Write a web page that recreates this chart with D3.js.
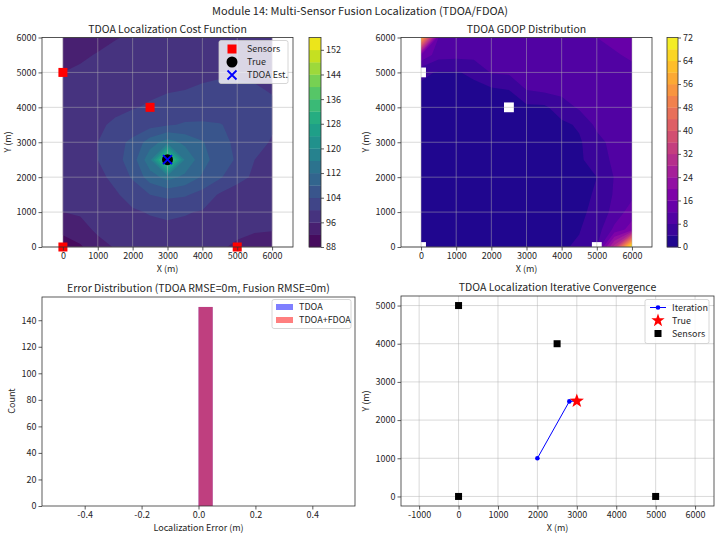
<!DOCTYPE html>
<html>
<head>
<meta charset="utf-8">
<script src="https://cdn.jsdelivr.net/npm/d3@7"></script>
<style>
body { margin: 0; background: #fff; }
text { font-family: "Noto Sans CJK SC", "Noto Sans", sans-serif; fill: #262626; }
</style>
</head>
<body>
<svg id="chart" width="720" height="540"></svg>
<script>
// ---- data ----
var sensorsX = [0, 5000, 0, 2500];
var sensorsY = [0, 0, 5000, 4000];
var truePos = [3000, 2500];
var tdoaEst = [3000, 2500];

// sample grid (m): columns west->east, rows north->south
var gridX = [0, 500, 1000, 1500, 2000, 2500, 3000, 3500, 4000, 4500, 5000, 5500, 6000];
var gridY = [6000, 5500, 5000, 4500, 4000, 3500, 3000, 2500, 2000, 1500, 1000, 500, 0];

var costGrid = [
  [93, 94, 95, 95.8, 96.5, 97, 97.5, 98, 98, 98, 98, 98, 98],
  [94.5, 95.5, 96.2, 97, 97.5, 98, 98.3, 98.6, 98.8, 99, 99, 98.8, 98.5],
  [96, 96.5, 97, 97.5, 98, 98.5, 99, 99.3, 99.5, 99.7, 99.7, 99.5, 99],
  [97, 97.5, 98, 98.5, 99, 99.5, 99.8, 100, 100.3, 100.5, 100.5, 100.3, 99.8],
  [97.5, 98, 98.7, 99.3, 99.8, 100.3, 100.8, 101.5, 102, 102, 101.8, 101.2, 100.5],
  [97.5, 98.2, 99.5, 100.5, 101.5, 102.5, 103.5, 104.5, 104.5, 104.2, 103, 101.5, 100.3],
  [97.5, 98.5, 100, 102.5, 105, 110, 114, 111, 108.3, 105.5, 103, 100.8, 99.8],
  [97, 98.5, 100, 102.5, 106, 115, 142, 115.5, 109.5, 106, 103.5, 100, 99],
  [96.5, 97.5, 99, 101, 104.5, 110, 113.5, 111, 107.5, 104.5, 101, 99.5, 98.5],
  [96.3, 97, 98, 99.5, 101.5, 104, 105, 104.5, 102.5, 99.5, 98.5, 97.5, 97],
  [96, 96.5, 97.5, 98.5, 99.5, 100.3, 100.7, 100.3, 99.7, 98.7, 97.8, 97.2, 97],
  [93.5, 94.5, 96.8, 97.3, 98, 98.8, 99.2, 99, 98.5, 97.8, 97, 96.5, 96.3],
  [89, 91.5, 94.5, 96.3, 96.8, 97.5, 97.8, 97.7, 97.3, 96.5, 95.3, 94, 93]
];

var gdopGrid = [
  [60, 12, 10.5, 10, 9.8, 9.8, 10, 10.5, 11, 11.5, 12, 12.5, 13],
  [16, 9.5, 9.2, 9.3, 9.5, 9.8, 10, 10.3, 10.6, 10.9, 11.3, 11.8, 12.3],
  [4.5, 3.8, 3.8, 4.5, 8.3, 8.6, 8.9, 9.2, 9.6, 10, 10.5, 11, 11.5],
  [3.5, 3.2, 3.2, 3.3, 3.3, 4, 8, 8.8, 9.3, 9.8, 10.2, 10.6, 11],
  [3, 2.8, 2.7, 2.7, 2.8, 3, 3.1, 3.3, 6, 8.6, 9.6, 10, 10.5],
  [2.8, 2.6, 2.5, 2.5, 2.5, 2.6, 2.8, 3, 3.2, 4.5, 9, 9.8, 10.3],
  [2.8, 2.5, 2.4, 2.3, 2.3, 2.4, 2.5, 2.7, 3, 3.5, 6.5, 9.5, 10.5],
  [2.8, 2.5, 2.3, 2.2, 2.2, 2.3, 2.4, 2.6, 2.9, 3.5, 5.5, 9, 10.5],
  [2.9, 2.5, 2.3, 2.2, 2.2, 2.3, 2.4, 2.6, 2.8, 3.2, 4, 8.2, 10],
  [3, 2.6, 2.4, 2.3, 2.3, 2.4, 2.5, 2.7, 2.9, 3.3, 4.3, 8.5, 11],
  [3.2, 2.8, 2.5, 2.4, 2.4, 2.5, 2.6, 2.8, 3, 3.4, 4.8, 9.5, 14],
  [3.5, 3.2, 2.7, 2.5, 2.5, 2.6, 2.7, 2.9, 3.2, 3.8, 6, 13, 18],
  [3.5, 3.5, 3.2, 2.8, 2.7, 2.8, 3, 3.2, 3.6, 4.5, 8, 30, 72]
];

var costLevels = [88, 92, 96, 100, 104, 108, 112, 116, 120, 124, 128, 132, 136, 140, 144, 148, 152, 156];
var gdopLevels = [0, 4, 8, 12, 16, 20, 24, 28, 32, 36, 40, 44, 48, 52, 56, 60, 64, 68, 72];
var holeSize = 280; // NaN cells around each sensor (m)

var histEdges = [-0.5, -0.45, -0.4, -0.35, -0.3, -0.25, -0.2, -0.15, -0.1, -0.05, 0,
                 0.05, 0.1, 0.15, 0.2, 0.25, 0.3, 0.35, 0.4, 0.45, 0.5];
var tdoaCounts   = [0, 0, 0, 0, 0, 0, 0, 0, 0, 0, 150, 0, 0, 0, 0, 0, 0, 0, 0, 0];
var fusionCounts = [0, 0, 0, 0, 0, 0, 0, 0, 0, 0, 150, 0, 0, 0, 0, 0, 0, 0, 0, 0];

var iterX = [2000, 2810, 3000];
var iterY = [1000, 2490, 2500];

// tick values
var mapTicks = [0, 1000, 2000, 3000, 4000, 5000, 6000];
var costTicks = [88, 96, 104, 112, 120, 128, 136, 144, 152];
var gdopTicks = [0, 8, 16, 24, 32, 40, 48, 56, 64, 72];
var histXTicks = [-0.4, -0.2, 0.0, 0.2, 0.4];
var histYTicks = [0, 20, 40, 60, 80, 100, 120, 140];
var convXTicks = [-1000, 0, 1000, 2000, 3000, 4000, 5000, 6000];
var convYTicks = [0, 1000, 2000, 3000, 4000, 5000];

// ---- helpers ----
var svg = d3.select("#chart");
var fmtInt = function(d) { return d3.format("d")(d).replace("\u2212", "-"); };
var fmt1 = function(d) { return d3.format(".1f")(d).replace("\u2212", "-"); };

function styleAxis(sel) {
  sel.attr("font-family", null).attr("font-size", null);
  sel.select(".domain").remove();
  sel.selectAll(".tick line").attr("stroke", "#333").attr("stroke-width", 0.8);
  sel.selectAll(".tick text").attr("fill", "#262626").style("font-size", "9px");
}

function axes(xs, ys, xt, yt, fx, fy) {
  svg.append("g").attr("transform", "translate(0," + ys.range()[0] + ")")
    .call(d3.axisBottom(xs).tickValues(xt).tickFormat(fx).tickSize(3.5).tickPadding(2))
    .call(styleAxis);
  svg.append("g").attr("transform", "translate(" + xs.range()[0] + ",0)")
    .call(d3.axisLeft(ys).tickValues(yt).tickFormat(fy).tickSize(3.5).tickPadding(2))
    .call(styleAxis);
}

function frame(xs, ys) {
  svg.append("rect")
    .attr("x", xs.range()[0]).attr("y", ys.range()[1])
    .attr("width", xs.range()[1] - xs.range()[0])
    .attr("height", ys.range()[0] - ys.range()[1])
    .attr("fill", "none").attr("stroke", "#333").attr("stroke-width", 0.8);
}

function gridLines(xs, ys, xt, yt) {
  var g = svg.append("g").attr("stroke", "#b0b0b0").attr("stroke-opacity", 0.6).attr("stroke-width", 0.8);
  g.selectAll(".gx").data(xt).enter().append("line")
    .attr("x1", function(d) { return xs(d); }).attr("x2", function(d) { return xs(d); })
    .attr("y1", ys.range()[0]).attr("y2", ys.range()[1]);
  g.selectAll(".gy").data(yt).enter().append("line")
    .attr("y1", function(d) { return ys(d); }).attr("y2", function(d) { return ys(d); })
    .attr("x1", xs.range()[0]).attr("x2", xs.range()[1]);
}

function label(txt, x, y, size, rot) {
  var t = svg.append("text").attr("x", x).attr("y", y)
    .attr("text-anchor", "middle").style("font-size", size + "px").text(txt);
  if (rot) t.attr("transform", "rotate(-90," + x + "," + y + ")");
  return t;
}

function contourPanel(xs, ys, values, levels, interp, id) {
  var step = gridX[1] - gridX[0];
  var flat = [];
  values.forEach(function(row) { row.forEach(function(v) { flat.push(v); }); });
  var lo = levels[0], hi = levels[levels.length - 1];
  var bands = d3.contours().size([gridX.length, gridY.length]).thresholds(levels.slice(0, -1))(flat);
  var proj = d3.geoTransform({ point: function(px, py) {
    this.stream.point(xs(gridX[0] + (px - 0.5) * step), ys(gridY[0] - (py - 0.5) * step));
  }});
  svg.append("clipPath").attr("id", id).append("rect")
    .attr("x", xs(d3.min(gridX))).attr("y", ys(d3.max(gridY)))
    .attr("width", xs(d3.max(gridX)) - xs(d3.min(gridX)))
    .attr("height", ys(d3.min(gridY)) - ys(d3.max(gridY)));
  svg.append("g").attr("clip-path", "url(#" + id + ")")
    .selectAll("path").data(bands).enter().append("path")
    .attr("d", d3.geoPath(proj))
    .attr("fill", function(d, i) { return interp(((levels[i] + levels[i + 1]) / 2 - lo) / (hi - lo)); });
}

function colorbar(x0, x1, cs, levels, ticks, interp) {
  var lo = levels[0], hi = levels[levels.length - 1];
  svg.append("g").selectAll("rect").data(levels.slice(0, -1)).enter().append("rect")
    .attr("x", x0).attr("width", x1 - x0)
    .attr("y", function(d, i) { return cs(levels[i + 1]); })
    .attr("height", function(d, i) { return cs(levels[i]) - cs(levels[i + 1]) + 0.3; })
    .attr("fill", function(d, i) { return interp(((levels[i] + levels[i + 1]) / 2 - lo) / (hi - lo)); });
  svg.append("rect").attr("x", x0).attr("y", cs.range()[1]).attr("width", x1 - x0)
    .attr("height", cs.range()[0] - cs.range()[1])
    .attr("fill", "none").attr("stroke", "#333").attr("stroke-width", 0.8);
  svg.append("g").attr("transform", "translate(" + x1 + ",0)")
    .call(d3.axisRight(cs).tickValues(ticks).tickFormat(fmtInt).tickSize(3).tickPadding(2))
    .call(styleAxis);
}

function starPath(r) {
  var pts = [];
  for (var k = 0; k < 10; k++) {
    var a = -Math.PI / 2 + k * Math.PI / 5, rr = k % 2 ? r * 0.4 : r;
    pts.push([rr * Math.cos(a), rr * Math.sin(a)]);
  }
  return "M" + pts.join("L") + "Z";
}

function legendBox(x, y, w, h) {
  svg.append("rect").attr("x", x).attr("y", y).attr("width", w).attr("height", h).attr("rx", 2)
    .attr("fill", "#fff").attr("fill-opacity", 0.8).attr("stroke", "#cccccc").attr("stroke-width", 0.8);
}

function legendText(txt, x, y) {
  svg.append("text").attr("x", x).attr("y", y).attr("dy", "0.35em").style("font-size", "9px").text(txt);
}

// ---- suptitle ----
label("Module 14: Multi-Sensor Fusion Localization (TDOA/FDOA)", 360, 14.5, 11);

// ---- panel 1: cost function ----
var xA = d3.scaleLinear().domain([-600, 6600]).range([42, 293]);
var yA = d3.scaleLinear().domain([0, 6000]).range([247, 37.5]);
contourPanel(xA, yA, costGrid, costLevels, d3.interpolateViridis, "clipA");
gridLines(xA, yA, mapTicks, mapTicks);
svg.append("g").selectAll("rect").data(sensorsX).enter().append("rect")
  .attr("x", function(d) { return xA(d) - 4.5; })
  .attr("y", function(d, i) { return yA(sensorsY[i]) - 4.5; })
  .attr("width", 9).attr("height", 9).attr("fill", "#ff0000");
svg.append("circle").attr("cx", xA(truePos[0])).attr("cy", yA(truePos[1])).attr("r", 5.5).attr("fill", "#000");
svg.append("path")
  .attr("d", "M-4.5,-4.5L4.5,4.5M-4.5,4.5L4.5,-4.5")
  .attr("transform", "translate(" + xA(tdoaEst[0]) + "," + yA(tdoaEst[1]) + ")")
  .attr("stroke", "#0000ff").attr("stroke-width", 1.8);
frame(xA, yA);
axes(xA, yA, mapTicks, mapTicks, fmtInt, fmtInt);
label("TDOA Localization Cost Function", 167.5, 33, 10.5);
label("X (m)", 167.5, 272, 9);
label("Y (m)", 11, 142, 9, true);
var cA = d3.scaleLinear().domain([88, 156]).range([247, 37.5]);
colorbar(309, 321, cA, costLevels, costTicks, d3.interpolateViridis);
legendBox(219, 40.5, 69, 43);
svg.append("rect").attr("x", 227.5).attr("y", 44.5).attr("width", 9).attr("height", 9).attr("fill", "#ff0000");
legendText("Sensors", 247, 49);
svg.append("circle").attr("cx", 232).attr("cy", 62).attr("r", 5.5).attr("fill", "#000");
legendText("True", 247, 62);
svg.append("path").attr("d", "M-4.5,-4.5L4.5,4.5M-4.5,4.5L4.5,-4.5")
  .attr("transform", "translate(232,75)").attr("stroke", "#0000ff").attr("stroke-width", 1.8);
legendText("TDOA Est.", 247, 75);

// ---- panel 2: GDOP ----
var xB = d3.scaleLinear().domain([-570, 6570]).range([401, 652]);
var yB = d3.scaleLinear().domain([0, 6000]).range([247, 37.5]);
contourPanel(xB, yB, gdopGrid, gdopLevels, d3.interpolatePlasma, "clipB");
svg.append("g").attr("clip-path", "url(#clipB)").selectAll("rect").data(sensorsX).enter().append("rect")
  .attr("x", function(d) { return xB(d - holeSize / 2); })
  .attr("y", function(d, i) { return yB(sensorsY[i] + holeSize / 2); })
  .attr("width", xB(holeSize) - xB(0)).attr("height", yB(0) - yB(holeSize))
  .attr("fill", "#fff");
gridLines(xB, yB, mapTicks, mapTicks);
frame(xB, yB);
axes(xB, yB, mapTicks, mapTicks, fmtInt, fmtInt);
label("TDOA GDOP Distribution", 526.5, 33, 10.5);
label("X (m)", 526.5, 272, 9);
label("Y (m)", 369, 142, 9, true);
var cB = d3.scaleLinear().domain([0, 72]).range([247, 37.5]);
colorbar(667, 678, cB, gdopLevels, gdopTicks, d3.interpolatePlasma);

// ---- panel 3: error histogram ----
var xC = d3.scaleLinear().domain([-0.55, 0.55]).range([42, 355]);
var yC = d3.scaleLinear().domain([0, 157.5]).range([506, 297]);
function histBars(counts, color) {
  svg.append("g").selectAll("rect").data(counts).enter().append("rect")
    .attr("x", function(d, i) { return xC(histEdges[i]); })
    .attr("width", function(d, i) { return xC(histEdges[i + 1]) - xC(histEdges[i]); })
    .attr("y", function(d) { return yC(d); })
    .attr("height", function(d) { return yC(0) - yC(d); })
    .attr("fill", color).attr("fill-opacity", 0.5);
}
histBars(tdoaCounts, "#0000ff");
histBars(fusionCounts, "#ff0000");
frame(xC, yC);
axes(xC, yC, histXTicks, histYTicks, fmt1, fmtInt);
label("Error Distribution (TDOA RMSE=0m, Fusion RMSE=0m)", 198.5, 292, 10.5);
label("Localization Error (m)", 198.5, 531, 9);
label("Count", 15, 401, 9, true);
legendBox(272, 299.5, 79, 29);
svg.append("rect").attr("x", 276).attr("y", 304).attr("width", 17).attr("height", 6).attr("fill", "#0000ff").attr("fill-opacity", 0.5);
legendText("TDOA", 299, 307);
svg.append("rect").attr("x", 276).attr("y", 317).attr("width", 17).attr("height", 6).attr("fill", "#ff0000").attr("fill-opacity", 0.5);
legendText("TDOA+FDOA", 299, 320);

// ---- panel 4: iterative convergence ----
var xD = d3.scaleLinear().domain([-1460, 6480]).range([401, 714]);
var yD = d3.scaleLinear().domain([-250, 5250]).range([506, 296]);
gridLines(xD, yD, convXTicks, convYTicks);
var line = d3.line()
  .x(function(d, i) { return xD(iterX[i]); })
  .y(function(d, i) { return yD(iterY[i]); });
svg.append("path").attr("d", line(iterX)).attr("fill", "none").attr("stroke", "#0000ff").attr("stroke-width", 1);
svg.append("g").selectAll("circle").data(iterX).enter().append("circle")
  .attr("cx", function(d) { return xD(d); })
  .attr("cy", function(d, i) { return yD(iterY[i]); })
  .attr("r", 2.3).attr("fill", "#0000ff");
svg.append("path").attr("d", starPath(7.5))
  .attr("transform", "translate(" + xD(truePos[0]) + "," + yD(truePos[1]) + ")")
  .attr("fill", "#ff0000");
svg.append("g").selectAll("rect").data(sensorsX).enter().append("rect")
  .attr("x", function(d) { return xD(d) - 3.5; })
  .attr("y", function(d, i) { return yD(sensorsY[i]) - 3.5; })
  .attr("width", 7).attr("height", 7).attr("fill", "#000");
frame(xD, yD);
axes(xD, yD, convXTicks, convYTicks, fmtInt, fmtInt);
label("TDOA Localization Iterative Convergence", 557.5, 291, 10.5);
label("X (m)", 557.5, 531, 9);
label("Y (m)", 369, 401, 9, true);
legendBox(645, 299.5, 64, 44);
svg.append("line").attr("x1", 650).attr("x2", 666).attr("y1", 307.5).attr("y2", 307.5).attr("stroke", "#0000ff").attr("stroke-width", 1);
svg.append("circle").attr("cx", 658).attr("cy", 307.5).attr("r", 2.3).attr("fill", "#0000ff");
legendText("Iteration", 672, 307.5);
svg.append("path").attr("d", starPath(7)).attr("transform", "translate(658,320.5)").attr("fill", "#ff0000");
legendText("True", 672, 320.5);
svg.append("rect").attr("x", 654.5).attr("y", 330).attr("width", 7).attr("height", 7).attr("fill", "#000");
legendText("Sensors", 672, 333.5);
</script>
</body>
</html>
